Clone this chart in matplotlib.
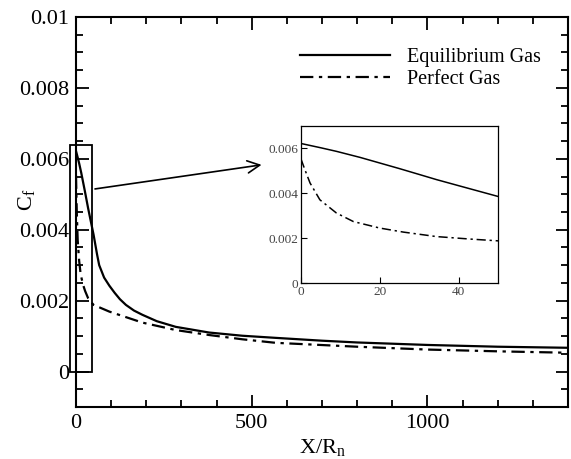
import matplotlib
matplotlib.use('Agg')
import matplotlib.pyplot as plt
from matplotlib.patches import Rectangle
from matplotlib.ticker import MultipleLocator, FuncFormatter

plt.rcParams['font.family'] = ['Liberation Serif', 'DejaVu Serif']
plt.rcParams['mathtext.default'] = 'regular'

# skin friction along the body
x_eq = [0, 5, 9, 15, 20, 25, 30, 34.4, 40, 45, 50, 60, 66, 80, 95, 110, 125,
        142, 165, 189, 230, 284, 379, 473, 568, 700, 800, 1000, 1200, 1400]
cf_eq = [0.00622, 0.00603, 0.00587, 0.00560, 0.00535, 0.00510, 0.00484,
         0.00461, 0.00434, 0.00410, 0.00386, 0.00330, 0.00300, 0.00265,
         0.00242, 0.00222, 0.00204, 0.00188, 0.00172, 0.00160, 0.00142,
         0.00126, 0.00110, 0.00101, 0.00095, 0.00087, 0.00082, 0.00075,
         0.00070, 0.00067]

x_pg = [0, 1, 2.3, 4.8, 9, 13.3, 20, 26, 34.4, 42.9, 50, 95, 189, 284, 379,
        473, 568, 800, 1000, 1200, 1400]
cf_pg = [0.00553, 0.00505, 0.00446, 0.00371, 0.00312, 0.00274, 0.00245,
         0.00227, 0.00207, 0.00196, 0.00188, 0.00169, 0.00138, 0.00117,
         0.00103, 0.00091, 0.00081, 0.00070, 0.00062, 0.00057, 0.00053]

labels = ['Equilibrium Gas', 'Perfect Gas']
dashdot = (6, 2.5, 1.5, 2.5)

fig = plt.figure(figsize=(5.71, 4.59), dpi=100)
ax = fig.add_axes([0.1331, 0.1133, 0.8616, 0.8497])

ax.plot(x_eq, cf_eq, 'k-', lw=1.6, label=labels[0])
ax.plot(x_pg, cf_pg, 'k', lw=1.6, dashes=dashdot, label=labels[1])

ax.set_xlim(0, 1400)
ax.set_ylim(-0.001, 0.01)
ax.xaxis.set_major_locator(MultipleLocator(500))
ax.xaxis.set_minor_locator(MultipleLocator(100))
ax.yaxis.set_major_locator(MultipleLocator(0.002))
ax.yaxis.set_minor_locator(MultipleLocator(0.0005))
ax.yaxis.set_major_formatter(FuncFormatter(lambda v, p: f'{v:g}' if v >= 0 else ''))
ax.tick_params(which='both', direction='in', top=True, right=True, width=1.3)
ax.tick_params(which='major', length=9, labelsize=16, pad=5)
ax.tick_params(which='minor', length=5)
for s in ax.spines.values():
    s.set_linewidth(1.5)

ax.set_xlabel('X/R$_n$', fontsize=16)
ax.set_ylabel('C$_f$', fontsize=16)
ax.xaxis.set_label_coords(0.5, -0.077)
ax.yaxis.set_label_coords(-0.08, 0.53)

ax.legend(loc='upper left', bbox_to_anchor=(0.455, 0.92), frameon=False,
          fontsize=14.5, handlelength=4.5, handletextpad=0.8, labelspacing=0.12,
          borderpad=0, borderaxespad=0)

# zoom box and arrow
ax.add_patch(Rectangle((-17, 0), 63, 0.0064, fill=False, ec='k', lw=1.3,
                       clip_on=False))
ax.annotate('', xy=(528, 0.00583), xytext=(54, 0.00515),
            arrowprops=dict(arrowstyle='->', color='k', lw=1.2,
                            mutation_scale=22, shrinkA=0, shrinkB=0))

# inset
ins = fig.add_axes([0.5271, 0.3834, 0.3450, 0.3421])
ins.plot(x_eq, cf_eq, 'k-', lw=1.1)
ins.plot(x_pg, cf_pg, 'k', lw=1.1, dashes=dashdot)
ins.set_xlim(0, 50)
ins.set_ylim(0, 0.007)
ins.xaxis.set_major_locator(MultipleLocator(20))
ins.yaxis.set_major_locator(MultipleLocator(0.002))
ins.yaxis.set_major_formatter(FuncFormatter(lambda v, p: f'{v:g}'))
ins.tick_params(direction='in', length=4, width=0.8, labelsize=9.5,
                labelcolor='#444444', pad=2)
for s in ins.spines.values():
    s.set_linewidth(0.9)

fig.savefig('out.png', dpi=100)
